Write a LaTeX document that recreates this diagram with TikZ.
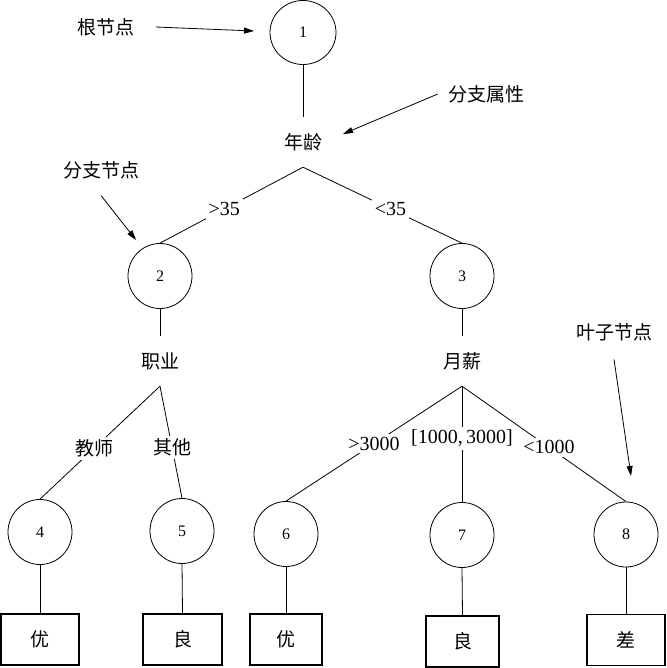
\documentclass[tikz,border=0pt]{standalone}
\usepackage{fontspec}
\setmainfont{Liberation Serif}
\newfontfamily\cjk{Noto Sans CJK SC}
\usetikzlibrary{shapes.geometric,arrows.meta}
\begin{document}
\begin{tikzpicture}[x=1pt,y=-1pt,
  tnode/.style={ellipse, draw, line width=0.8pt, minimum width=64pt, minimum height=65pt, inner sep=0pt, font=\fontsize{16}{16}\selectfont},
  attr/.style={font=\cjk\fontsize{19}{19}\selectfont, minimum height=50pt, inner sep=0pt},
  elbl/.style={fill=white, font=\fontsize{20}{20}\selectfont, inner sep=3pt},
  clbl/.style={fill=white, font=\cjk\fontsize{19}{19}\selectfont, inner sep=3pt},
  leaf/.style={draw, line width=1.3pt, minimum height=51pt, inner sep=0pt, font=\cjk\fontsize{19}{19}\selectfont},
  link/.style={line width=0.8pt},
  annot/.style={line width=0.8pt, -{Triangle[length=10pt,width=6pt]}},
  note/.style={font=\cjk\fontsize{19}{19}\selectfont, inner sep=0pt}
]
\useasboundingbox (0,0) rectangle (666,668);

% tree nodes
\node[tnode, minimum width=66pt, minimum height=64pt] (n1) at (303,32.5) {1};
\node[attr] (age) at (303,142) {年龄};
\node[tnode] (n2) at (160,276) {2};
\node[tnode] (n3) at (462,276) {3};
\node[attr] (job) at (160,361) {职业};
\node[attr] (sal) at (462,361) {月薪};
\node[tnode] (n4) at (40,532) {4};
\node[tnode] (n5) at (182,531) {5};
\node[tnode] (n6) at (286,534) {6};
\node[tnode] (n7) at (462,535) {7};
\node[tnode] (n8) at (626,534.5) {8};
\node[leaf, minimum width=78pt] (b4) at (40,639.5) {优};
\node[leaf, minimum width=79pt] (b5) at (182.5,639.5) {良};
\node[leaf, minimum width=72pt] (b6) at (286,639.5) {优};
\node[leaf, minimum width=73pt] (b7) at (462.5,641.5) {良};
\node[leaf, minimum width=78pt] (b8) at (626,640) {差};

% connectors
\draw[link] (n1.south) -- (age.north);
\draw[link] (age.south) -- node[elbl,pos=0.55]{>35} (n2.north);
\draw[link] (age.south) -- node[elbl,pos=0.55]{<35} (n3.north);
\draw[link] (n2.south) -- (job.north);
\draw[link] (n3.south) -- (sal.north);
\draw[link] (job.south) -- node[clbl,pos=0.55]{教师} (n4.north);
\draw[link] (job.south) -- node[clbl,pos=0.55]{其他} (n5.north);
\draw[link] (sal.south) -- node[elbl,pos=0.5]{>3000} (n6.north);
\draw[link] (sal.south) -- node[elbl,pos=0.45]{[1000,\,3000]} (n7.north);
\draw[link] (sal.south) -- node[elbl,pos=0.53]{<1000} (n8.north);
\draw[link] (n4.south) -- (b4.north);
\draw[link] (n5.south) -- (b5.north);
\draw[link] (n6.south) -- (b6.north);
\draw[link] (n7.south) -- (b7.north);
\draw[link] (n8.south) -- (b8.north);

% annotations
\node[note] (rootlbl) at (106,27) {根节点};
\coordinate (rootptr) at (254,31);
\draw[annot] ([xshift=21pt]rootlbl.east) -- (rootptr);

\node[note] (attrlbl) at (486,94) {分支属性};
\coordinate (attrptr) at (343,134);
\draw[annot] ([xshift=-10pt]attrlbl.west) -- (attrptr);

\node[note] (branchlbl) at (101,170) {分支节点};
\coordinate (branchptr) at (136,240);
\draw[annot] ([yshift=-16.5pt]branchlbl.south) -- (branchptr);

\node[note] (leaflbl) at (614,332) {叶子节点};
\coordinate (leafptr) at (631,476);
\draw[annot] ([yshift=-18.5pt]leaflbl.south) -- (leafptr);
\end{tikzpicture}
\end{document}
